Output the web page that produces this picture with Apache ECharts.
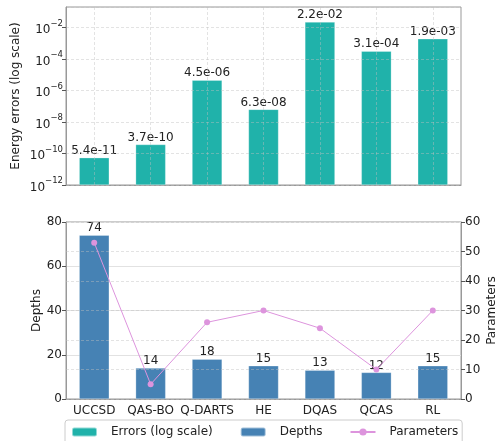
<!DOCTYPE html>
<html>
<head>
<meta charset="utf-8">
<script src="https://cdn.jsdelivr.net/npm/echarts@6/dist/echarts.min.js"></script>
<style>html,body{margin:0;padding:0;background:#fff}#c{width:498px;height:441px}</style>
</head>
<body>
<div id="c"></div>
<script>
const categories = ['UCCSD', 'QAS-BO', 'Q-DARTS', 'HE', 'DQAS', 'QCAS', 'RL'];
const errors = [5.4e-11, 3.7e-10, 4.5e-6, 6.3e-8, 2.2e-2, 3.1e-4, 1.9e-3];
const depths = [74, 14, 18, 15, 13, 12, 15];
const parameters = [53, 5, 26, 30, 24, 10, 30];
const logMinExp = -12;      // bottom of log axis: 1e-12
const logTopExp = -0.7;     // top of log axis
const depthTicks = [0, 20, 40, 60, 80];
const paramTicks = [0, 10, 20, 30, 40, 50, 60];

const FONT = 'DejaVu Sans';
const TXT = '#222';
const AX = '#999';

function fmtExp(v) {
  const s = v.toExponential(1);
  const parts = s.split('e');
  const sign = parts[1][0];
  let d = parts[1].slice(1);
  if (d.length < 2) d = '0' + d;
  return parts[0] + 'e' + sign + d;
}

const errData = errors.map(v => Math.log10(v) - logMinExp);

const chart = echarts.init(document.getElementById('c'), null, {renderer: 'canvas'});
chart.setOption({
  animation: false,
  textStyle: {fontFamily: FONT},
  grid: [
    {left: 66, right: 37, top: 7, height: 178, show: true, borderColor: AX, borderWidth: 1, backgroundColor: 'transparent', outerBoundsMode: 'none'},
    {left: 66, right: 37, top: 222, height: 177, show: true, borderColor: AX, borderWidth: 1, backgroundColor: 'transparent', outerBoundsMode: 'none'}
  ],
  legend: {
    data: ['Errors (log scale)', 'Depths', 'Parameters'],
    left: 65, top: 420,
    padding: [6, 4, 10, 6],
    itemGap: 27, itemWidth: 25, itemHeight: 9,
    borderColor: '#ccc', borderWidth: 1, borderRadius: 3,
    backgroundColor: '#fff',
    formatter: n => '{t|' + n + '}',
    textStyle: {fontFamily: FONT, fontSize: 12, color: TXT,
      rich: {t: {fontFamily: FONT, fontSize: 12, color: TXT, padding: [0, 0, 0, 9]}}}
  },
  xAxis: [
    {
      type: 'category', gridIndex: 0, data: categories,
      axisLine: {lineStyle: {color: AX}},
      axisTick: {alignWithLabel: true, length: 4, lineStyle: {color: '#555'}},
      axisLabel: {show: false},
      splitLine: {show: false}
    },
    {
      type: 'category', gridIndex: 1, data: categories,
      axisLine: {lineStyle: {color: AX}},
      axisTick: {alignWithLabel: true, length: 4, lineStyle: {color: '#555'}},
      axisLabel: {fontSize: 12, color: TXT, margin: 6, interval: 0},
      splitLine: {show: false}
    }
  ],
  yAxis: [
    {
      type: 'value', gridIndex: 0, min: 0, max: logTopExp - logMinExp, interval: 2, z: 5,
      name: 'Energy errors (log scale)', nameLocation: 'middle', nameGap: 44, nameMoveOverlap: false,
      nameTextStyle: {fontSize: 12, color: TXT, fontFamily: FONT},
      axisLine: {show: true, lineStyle: {color: AX}},
      axisTick: {show: true, length: 4, lineStyle: {color: '#555'}},
      axisLabel: {
        showMaxLabel: false, margin: 3, color: TXT,
        formatter: v => '{b|10}{s|\u2212' + Math.abs(v + logMinExp) + '}',
        rich: {
          b: {fontSize: 12, fontFamily: FONT, color: TXT, padding: [5, 0, 0, 0], verticalAlign: 'bottom'},
          s: {fontSize: 8.5, fontFamily: FONT, color: TXT, verticalAlign: 'top'}
        }
      },
      splitLine: {show: true, lineStyle: {color: 'rgba(190,190,190,0.55)', type: [3, 2], width: 0.8}}
    },
    {
      type: 'value', gridIndex: 1, min: 0, max: 80, interval: 20,
      name: 'Depths', nameLocation: 'middle', nameGap: 23, nameMoveOverlap: false,
      nameTextStyle: {fontSize: 12, color: TXT, fontFamily: FONT},
      axisLine: {show: true, lineStyle: {color: AX}},
      axisTick: {show: true, length: 4, lineStyle: {color: '#555'}},
      axisLabel: {fontSize: 12, color: TXT, margin: 4},
      splitLine: {show: true, lineStyle: {color: '#e2e2e2', width: 1}}
    },
    {
      type: 'value', gridIndex: 1, min: 0, max: 60, interval: 10, position: 'right', z: 5,
      name: 'Parameters', nameLocation: 'middle', nameGap: 24, nameRotate: 90, nameMoveOverlap: false,
      nameTextStyle: {fontSize: 12, color: TXT, fontFamily: FONT, verticalAlign: 'top', lineHeight: 13},
      axisLine: {show: true, lineStyle: {color: AX}},
      axisTick: {show: true, length: 4, lineStyle: {color: '#555'}},
      axisLabel: {fontSize: 12, color: TXT, margin: 4},
      splitLine: {show: true, lineStyle: {color: 'rgba(190,190,190,0.55)', type: [3, 2], width: 0.8}}
    }
  ],
  series: [
    {
      name: 'Errors (log scale)', type: 'bar', xAxisIndex: 0, yAxisIndex: 0,
      data: errData, barWidth: 30,
      itemStyle: {color: '#20B2AA', borderColor: 'rgba(255,255,255,0.5)', borderWidth: 0.5},
      label: {show: true, position: 'top', distance: 1, fontSize: 12, color: TXT, fontFamily: FONT,
        formatter: p => fmtExp(errors[p.dataIndex])},
      markLine: {
        silent: true, symbol: 'none', label: {show: false},
        lineStyle: {color: 'rgba(190,190,190,0.55)', type: [3, 2], width: 0.8},
        data: categories.map(c => ({xAxis: c}))
      }
    },
    {
      name: 'Depths', type: 'bar', xAxisIndex: 1, yAxisIndex: 1,
      data: depths, barWidth: 30,
      itemStyle: {color: '#4682B4', borderColor: 'rgba(255,255,255,0.5)', borderWidth: 0.5},
      label: {show: true, position: 'top', distance: 1, fontSize: 12, color: TXT, fontFamily: FONT}
    },
    {
      name: 'Parameters', type: 'line', xAxisIndex: 1, yAxisIndex: 2,
      data: parameters, z: 6,
      symbol: 'circle', symbolSize: 6,
      lineStyle: {color: '#DD94DD', width: 1},
      itemStyle: {color: '#DD94DD'}
    }
  ]
});
</script>
</body>
</html>
